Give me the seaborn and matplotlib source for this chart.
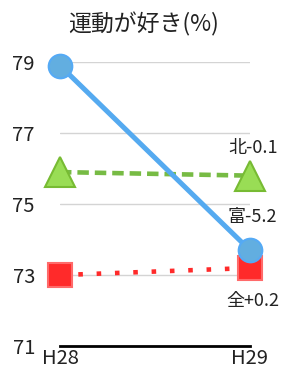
import numpy as np
import matplotlib.pyplot as plt
import seaborn as sns

years = ['H28', 'H29']
names = ['全', '北', '富']
zen = [73.0, 73.2]
kita = [75.9, 75.8]
tomi = [78.9, 73.7]
yticks = [71, 73, 75, 77, 79]

sns.set_theme(style='white')
plt.rcParams['font.family'] = ['Noto Sans CJK JP', 'DejaVu Sans']

fig = plt.figure(figsize=(2.87, 3.71), dpi=100)
ax = fig.add_axes([0.209, 0.067, 0.662, 0.766])

x = np.arange(len(years))

# (values, line colour, marker, marker fill, marker edge, dashes, label offset)
series = [
    (zen, '#ff2a2a', 's', '#ff2a2a', '#ff6a6a', (1, 3), -24),
    (kita, '#77bb44', '^', '#99dd55', '#77bb33', (2.5, 1.3), 20),
    (tomi, '#55aaf0', 'o', '#62aee0', '#55aaf5', None, 24),
]

for name, (vals, col, mk, fc, ec, dash, off) in zip(names, series):
    sns.lineplot(x=x, y=vals, ax=ax, color=col, lw=3.3 if dash else 3.6,
                 marker=mk, markersize=21 if mk == '^' else 17,
                 markerfacecolor=fc, markeredgecolor=ec, markeredgewidth=1.5,
                 clip_on=False, zorder=3)
    line = ax.lines[-1]
    if dash:
        line.set_dashes(dash)
        line.set_dash_capstyle('butt')
    diff = vals[-1] - vals[0]
    ax.annotate(f'{name}{diff:+.1f}', (x[-1], vals[-1]), xytext=(2, off),
                textcoords='offset points', ha='center', va='center',
                fontsize=13, color='#222222')

ax.set_xlim(0, 1)
ax.set_ylim(71, 79)
ax.set_yticks(yticks)
ax.set_xticks(x)
ax.set_xticklabels(years)
ax.yaxis.grid(True, color='#d4d4d4', lw=1)
ax.set_axisbelow(True)
for s in ['left', 'right', 'top']:
    ax.spines[s].set_visible(False)
ax.spines['bottom'].set_color('black')
ax.spines['bottom'].set_linewidth(2)
ax.tick_params(axis='y', length=0, pad=18, labelsize=14.5, labelcolor='#222222')
ax.tick_params(axis='x', length=0, pad=1, labelsize=14.5, labelcolor='#222222')

fig.text(0.5, 0.935, '運動が好き(%)', ha='center', va='center', fontsize=16.5,
         color='#222222')

fig.savefig('out.png', dpi=100)
